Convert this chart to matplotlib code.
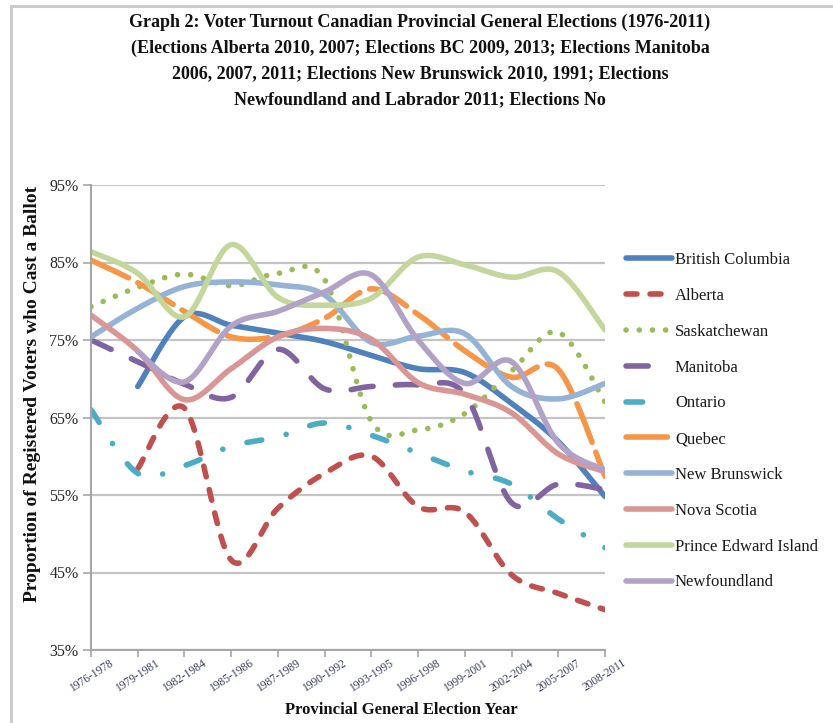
import numpy as np
import matplotlib
matplotlib.use("Agg")
import matplotlib.pyplot as plt
from matplotlib.lines import Line2D

plt.rcParams["font.family"] = ["Liberation Serif", "DejaVu Serif"]
plt.rcParams["lines.scale_dashes"] = False

periods = ["1976-1978", "1979-1981", "1982-1984", "1985-1986", "1987-1989", "1990-1992",
           "1993-1995", "1996-1998", "1999-2001", "2002-2004", "2005-2007", "2008-2011"]
nan = np.nan
british_columbia = [nan, 69.0, 78.0, 76.9, 75.9, 74.8, 73.0, 71.3, 70.8, 66.8, 61.9, 54.8]
alberta = [nan, 58.4, 66.2, 46.6, 53.3, 57.8, 60.0, 53.5, 52.8, 44.7, 42.3, 40.2]
saskatchewan = [79.3, 81.8, 83.5, 82.0, 83.6, 82.8, 64.5, 63.4, 65.5, 71.0, 76.0, 67.0]
manitoba = [75.0, 72.2, 69.3, 67.6, 73.8, 68.7, 69.0, 69.2, 68.0, 54.0, 56.4, 55.7]
ontario = [66.0, 57.8, 58.8, 61.3, 62.5, 64.3, 62.7, 60.4, 58.1, 56.4, 51.9, 48.2]
quebec = [85.3, 82.4, 78.7, 75.4, 75.5, 77.8, 81.6, 78.3, 73.6, 70.2, 71.2, 57.4]
new_brunswick = [75.4, 79.1, 81.9, 82.5, 82.1, 80.8, 74.7, 75.5, 75.8, 69.0, 67.4, 69.4]
nova_scotia = [78.2, 73.6, 67.3, 71.3, 75.4, 76.5, 75.1, 69.5, 68.0, 65.6, 60.3, 58.0]
pei = [86.4, 83.6, 78.0, 87.3, 80.5, 79.5, 80.4, 85.7, 84.7, 83.1, 83.8, 76.3]
newfoundland = [nan, 73.5, 69.6, 76.8, 78.7, 81.2, 83.4, 75.0, 69.4, 72.2, 61.7, 58.2]

series = [
    ("British Columbia", british_columbia, "#4F81BD", None),
    ("Alberta", alberta, "#C0504D", (7.9, 9.4)),
    ("Saskatchewan", saskatchewan, "#9BBB59", (0.1, 9.4)),
    ("Manitoba", manitoba, "#8064A2", (16.0, 16.0)),
    ("Ontario", ontario, "#4BACC6", (10.8, 18.0, 0.1, 18.0)),
    ("Quebec", quebec, "#F79646", (29.8, 7.6)),
    ("New Brunswick", new_brunswick, "#95B3D7", None),
    ("Nova Scotia", nova_scotia, "#D99694", None),
    ("Prince Edward Island", pei, "#C3D69B", None),
    ("Newfoundland", newfoundland, "#B3A2C7", None),
]


def smooth(values, n=30):
    """Smoothed line through the points using cubic Bezier segments."""
    y = np.asarray(values, float)
    x = np.arange(len(y), dtype=float)
    ok = ~np.isnan(y)
    x, y = x[ok], y[ok]
    px, py = [], []
    m = len(x)
    t = np.linspace(0, 1, n)
    for i in range(m - 1):
        i0 = max(i - 1, 0)
        i3 = min(i + 2, m - 1)
        p0 = np.array([x[i0], y[i0]])
        p1 = np.array([x[i], y[i]])
        p2 = np.array([x[i + 1], y[i + 1]])
        p3 = np.array([x[i3], y[i3]])
        c1 = p1 + (p2 - p0) / 6.0
        c2 = p2 - (p3 - p1) / 6.0
        b = ((1 - t) ** 3)[:, None] * p1 + (3 * (1 - t) ** 2 * t)[:, None] * c1 \
            + (3 * (1 - t) * t ** 2)[:, None] * c2 + (t ** 3)[:, None] * p2
        if i > 0:
            b = b[1:]
        px.extend(b[:, 0])
        py.extend(b[:, 1])
    return np.array(px), np.array(py)


W, H = 833, 723
fig = plt.figure(figsize=(W / 100, H / 100), dpi=100)
fig.patch.set_facecolor("white")

# thin grey frame along the top and left edges
fig.add_artist(Line2D([11 / W, 11 / W], [0, 1 - 6 / H], color="#CCCCCC", lw=2.2))
fig.add_artist(Line2D([11 / W, 1], [1 - 6 / H, 1 - 6 / H], color="#CCCCCC", lw=2.2))

ax = fig.add_axes([91 / W, 1 - 650 / H, (605 - 91) / W, (650 - 185) / H])

for name, vals, color, dash in series:
    xs, ys = smooth(vals)
    kw = dict(color=color, lw=4.0, solid_capstyle="round", dash_capstyle="round",
              solid_joinstyle="round", label=name)
    if dash is not None:
        kw["dashes"] = dash
    ax.plot(xs, ys, **kw)

ax.set_xlim(0, len(periods) - 1)
ax.set_ylim(35, 95)
ax.set_yticks(np.arange(35, 96, 10))
ax.set_yticklabels([f"{v}%" for v in range(35, 96, 10)], fontsize=11.5, color="#262626")
ax.set_xticks(np.arange(len(periods)))
ax.set_xticklabels(periods, rotation=33, fontsize=8.3, color="#3A3F5C")
ax.tick_params(axis="x", length=5, width=1.2, color="#A6A6A6", pad=0)
ax.tick_params(axis="y", length=6, width=1.2, color="#A6A6A6", pad=3)
ax.grid(axis="y", color="#C4C4C4", lw=1.6)
ax.set_axisbelow(True)
for s in ("top", "right"):
    ax.spines[s].set_visible(False)
for s in ("left", "bottom"):
    ax.spines[s].set_color("#A6A6A6")
    ax.spines[s].set_linewidth(1.5)

leg = ax.legend(loc="upper left", bbox_to_anchor=(626 / W, 1 - 252 / H),
                bbox_transform=fig.transFigure, frameon=False, fontsize=12,
                handlelength=2.76, handletextpad=0.18, labelspacing=1.19,
                borderpad=0, borderaxespad=0)
for t in leg.get_texts():
    t.set_color("#1A1A1A")
# legend keys for the long-dash styles show a single dash
handles = leg.legend_handles
handles[3].set_dashes((16.0, 30.0))
handles[4].set_dashes((12.0, 30.0))

title_lines = [
    "Graph 2: Voter Turnout Canadian Provincial General Elections (1976-2011)",
    "(Elections Alberta 2010, 2007; Elections BC 2009, 2013; Elections Manitoba",
    "2006, 2007, 2011; Elections New Brunswick 2010, 1991; Elections",
    "Newfoundland and Labrador 2011; Elections No",
]
for k, line in enumerate(title_lines):
    fig.text(420 / W, 1 - (22 + 26 * k) / H, line, ha="center", va="center",
             fontsize=13, fontweight="bold", color="#111111")

fig.text(33 / W, 1 - 394 / H, "Proportion of Registered Voters who Cast a Ballot",
         rotation=90, ha="center", va="center", fontsize=14, fontweight="bold",
         color="#111111")
fig.text(401 / W, 1 - 710 / H, "Provincial General Election Year", ha="center",
         va="center", fontsize=12, fontweight="bold", color="#111111")

fig.savefig("out.png", dpi=100, facecolor="white")
